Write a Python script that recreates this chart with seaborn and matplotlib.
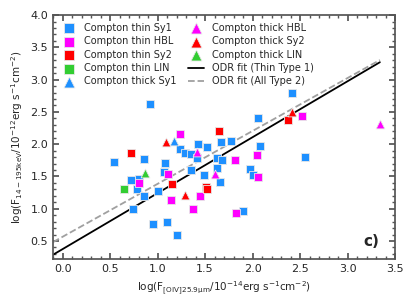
import numpy as np
import pandas as pd
import matplotlib
matplotlib.use("Agg")
import matplotlib.pyplot as plt
import seaborn as sns
from matplotlib.ticker import MultipleLocator

# log F[OIV] (x) and log F14-195keV (y)
thin_sy1_x = [0.54, 0.855, 0.72, 0.80, 0.78, 0.855, 0.74, 0.95, 1.10, 1.20, 1.005, 1.075,
              1.065, 1.24, 1.285, 1.355, 1.43, 1.41, 1.35, 1.52, 1.485, 1.62, 1.67, 1.775,
              1.68, 1.62, 1.66, 2.08, 2.555, 1.97, 2.00, 1.90, 2.41, 2.06, 0.925]
thin_sy1_y = [1.73, 1.77, 1.44, 1.46, 1.30, 1.20, 1.00, 0.77, 0.80, 0.60, 1.27, 1.71,
              1.57, 1.93, 1.87, 1.855, 1.995, 1.79, 1.60, 1.95, 1.52, 1.79, 2.04, 2.05,
              1.75, 1.63, 1.42, 1.97, 1.80, 1.62, 1.52, 0.97, 2.79, 2.41, 2.62]
thin_hbl_x = [1.24, 0.80, 1.105, 1.14, 1.37, 1.45, 1.82, 1.83, 2.05, 2.055, 2.52]
thin_hbl_y = [2.155, 1.40, 1.545, 1.13, 0.99, 1.20, 1.76, 0.93, 1.83, 1.49, 2.44]
thin_sy2_x = [0.72, 1.15, 1.65, 1.51, 1.52, 2.37]
thin_sy2_y = [1.87, 1.39, 2.20, 1.33, 1.30, 2.38]
thin_lin_x = [0.65]
thin_lin_y = [1.30]
thick_sy1_x = [1.17]
thick_sy1_y = [2.05]
thick_hbl_x = [1.41, 1.60, 3.34]
thick_hbl_y = [1.88, 1.53, 2.31]
thick_sy2_x = [1.09, 1.285, 2.41]
thick_sy2_y = [2.04, 1.21, 2.50]
thick_lin_x = [0.865]
thick_lin_y = [1.56]

# ODR fits: (slope, intercept)
fit_thin_type1 = (0.867, 0.374)
fit_all_type2 = (0.82, 0.565)

groups = [
    ("Compton thin Sy1", thin_sy1_x, thin_sy1_y, "s", "#1e90ff"),
    ("Compton thin HBL", thin_hbl_x, thin_hbl_y, "s", "#ff00ff"),
    ("Compton thin Sy2", thin_sy2_x, thin_sy2_y, "s", "#ff0000"),
    ("Compton thin LIN", thin_lin_x, thin_lin_y, "s", "#32cd32"),
    ("Compton thick Sy1", thick_sy1_x, thick_sy1_y, "^", "#1e90ff"),
    ("Compton thick HBL", thick_hbl_x, thick_hbl_y, "^", "#ff00ff"),
    ("Compton thick Sy2", thick_sy2_x, thick_sy2_y, "^", "#ff0000"),
    ("Compton thick LIN", thick_lin_x, thick_lin_y, "^", "#32cd32"),
]

sns.set_theme(style="ticks")
plt.rcParams["font.family"] = ["DejaVu Sans"]
plt.rcParams["mathtext.default"] = "regular"

fig, ax = plt.subplots(figsize=(4.15, 3.08), dpi=100)
fig.subplots_adjust(left=0.128, right=0.952, top=0.951, bottom=0.159)

xmin, xmax = -0.1, 3.5
for label, xs, ys, mk, col in groups:
    df = pd.DataFrame({"x": xs, "y": ys})
    sns.scatterplot(data=df, x="x", y="y", marker=mk, color=col, s=40,
                    edgecolor="#e8e8e8", linewidth=0.6, label=label, ax=ax, zorder=3)

x_end = max(max(g[1]) for g in groups)
xl = np.array([xmin, x_end])
for (m, b), style, col, label in [(fit_thin_type1, "-", "black", "ODR fit (Thin Type 1)"),
                                  (fit_all_type2, "--", "#a0a0a0", "ODR fit (All Type 2)")]:
    sns.lineplot(x=xl, y=m * xl + b, color=col, linestyle=style, linewidth=1.3,
                 label=label, ax=ax, zorder=2)

ax.set_xlim(xmin, xmax)
ax.set_ylim(0.22, 4.0)
ax.xaxis.set_major_locator(MultipleLocator(0.5))
ax.yaxis.set_major_locator(MultipleLocator(0.5))
ax.xaxis.set_minor_locator(MultipleLocator(0.1))
ax.yaxis.set_minor_locator(MultipleLocator(0.1))
ax.tick_params(which="both", direction="in", top=True, right=True, labelsize=8,
               color="#555555")
ax.tick_params(which="major", length=4)
ax.tick_params(which="minor", length=2)
for sp in ax.spines.values():
    sp.set_color("#555555")

ax.set_xlabel(r"log(F$_{[OIV]25.9\mu m}$/10$^{-14}$erg s$^{-1}$cm$^{-2}$)", fontsize=7.5)
ax.set_ylabel(r"log(F$_{14-195keV}$/10$^{-12}$erg s$^{-1}$cm$^{-2}$)", fontsize=7.5)

ax.legend(loc="upper left", ncol=2, frameon=False, fontsize=7, handlelength=1.6,
          columnspacing=1.2, labelspacing=0.35, borderaxespad=0.4, handletextpad=0.8,
          markerscale=1.25)

ax.text(0.93, 0.07, "c)", transform=ax.transAxes, fontsize=11, fontweight="bold",
        ha="center", va="center")

fig.savefig("out.png", dpi=100)
